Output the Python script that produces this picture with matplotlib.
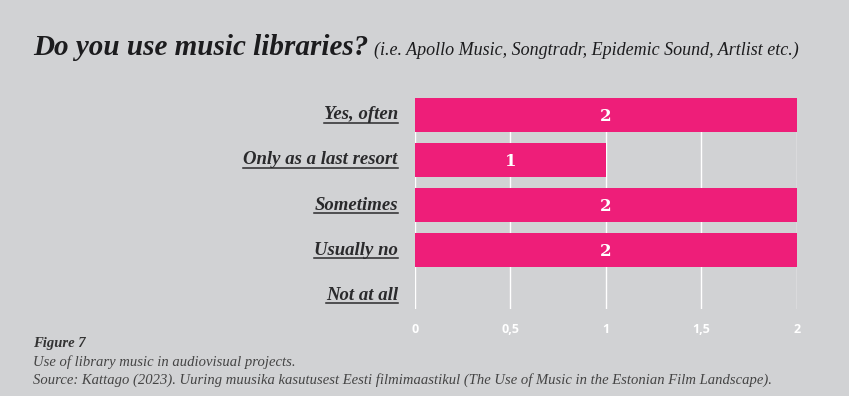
import matplotlib
matplotlib.use("Agg")
import matplotlib.pyplot as plt
from matplotlib.lines import Line2D

categories = ["Yes, often", "Only as a last resort", "Sometimes", "Usually no", "Not at all"]
values = [2, 1, 2, 2, 0]
xticks = [0, 0.5, 1, 1.5, 2]
xtick_labels = ["0", "0,5", "1", "1,5", "2"]

bg = "#d1d2d4"
pink = "#ee1e79"
dark = "#2a2a2c"

fig = plt.figure(figsize=(8.49, 3.96), dpi=100, facecolor=bg)
ax = fig.add_axes([415 / 849, 1 - 309 / 396, 381.7 / 849, (309 - 98) / 396])
ax.set_facecolor(bg)

ypos = list(range(len(categories)))
ax.barh(ypos, values, height=0.755, color=pink, zorder=3)
for y, v in zip(ypos, values):
    if v > 0:
        ax.text(v / 2, y + 0.04, str(v), ha="center", va="center", color="white",
                fontsize=12, fontweight="bold", family="DejaVu Serif", zorder=4)

ax.set_xlim(0, 2)
ax.set_ylim(4.31, -0.377)
ax.set_xticks(xticks)
ax.set_xticklabels(xtick_labels, color="white", fontsize=9, fontweight="bold", family="Open Sans")
ax.tick_params(axis="x", length=0, pad=10)
ax.set_yticks([])
ax.grid(axis="x", color="white", linewidth=1, zorder=1)
for s in ax.spines.values():
    s.set_visible(False)

# category labels with underline
fig.canvas.draw()
renderer = fig.canvas.get_renderer()
for y, c in zip(ypos, categories):
    t = ax.text(-0.09, y, c, ha="right", va="center", fontsize=13.5, fontweight="bold",
                fontstyle="italic", family="Liberation Serif", color=dark, transform=ax.transData)
    bb = t.get_window_extent(renderer).transformed(fig.transFigure.inverted())
    uy = bb.y0 + 0.5 / 396
    fig.add_artist(Line2D([bb.x0, bb.x1], [uy, uy], color=dark, linewidth=1.1,
                          transform=fig.transFigure))

title = fig.text(33 / 849, 1 - 55 / 396, "Do you use music libraries?", fontsize=21,
                 fontweight="bold", fontstyle="italic", family="Liberation Serif", color="#1c1c1e",
                 va="baseline")
bb = title.get_window_extent(renderer).transformed(fig.transFigure.inverted())
fig.text(bb.x1 + 6 / 849, 1 - 55 / 396, "(i.e. Apollo Music, Songtradr, Epidemic Sound, Artlist etc.)",
         fontsize=13, fontstyle="italic", family="Liberation Serif", color="#1c1c1e", va="baseline")

fig.text(33 / 849, 1 - 347 / 396, "Figure 7", fontsize=10.5, fontstyle="italic", fontweight="bold",
         family="Liberation Serif", color="#333333", va="baseline")
fig.text(33 / 849, 1 - 366 / 396, "Use of library music in audiovisual projects.", fontsize=10.5,
         fontstyle="italic", family="Liberation Serif", color="#444444", va="baseline")
fig.text(33 / 849, 1 - 384 / 396,
         "Source: Kattago (2023). Uuring muusika kasutusest Eesti filmimaastikul (The Use of Music in the Estonian Film Landscape).",
         fontsize=10.5, fontstyle="italic", family="Liberation Serif", color="#444444", va="baseline")

fig.savefig("out.png", dpi=100, facecolor=bg)
